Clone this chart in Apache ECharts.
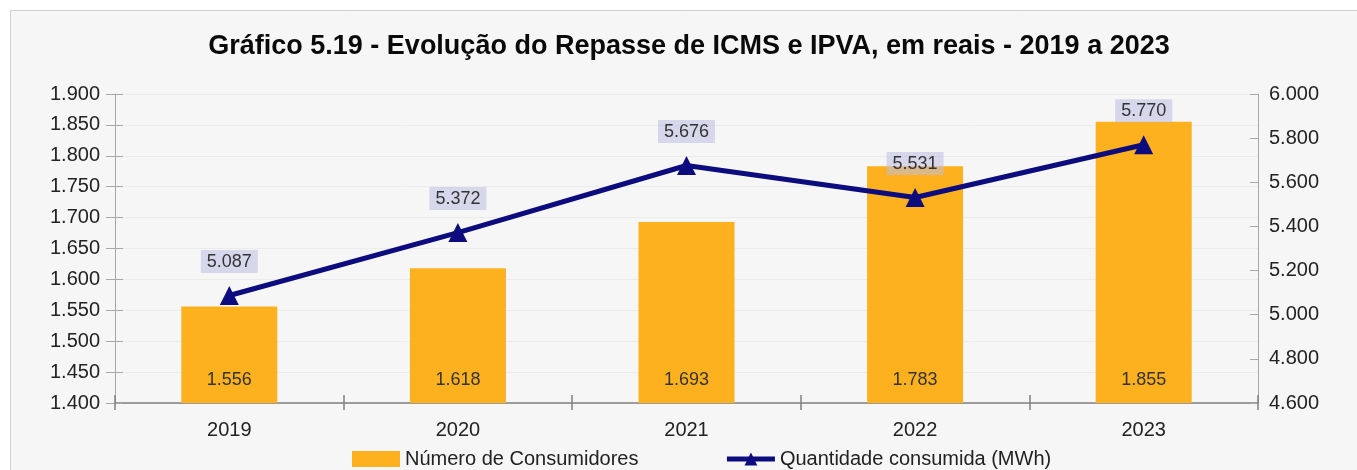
<!DOCTYPE html>
<html>
<head>
<meta charset="utf-8">
<script src="https://cdn.jsdelivr.net/npm/echarts@6/dist/echarts.min.js"></script>
<style>
  html, body { margin: 0; padding: 0; background: #ffffff; }
  #chart { width: 1357px; height: 470px; }
</style>
</head>
<body>
<div id="chart"></div>
<script>
// Data
const years = ['2019', '2020', '2021', '2022', '2023'];
const consumidores = [1556, 1618, 1693, 1783, 1855];
const consumoMWh = [5087, 5372, 5676, 5531, 5770];

// Brazilian thousands separator: 1556 -> "1.556"
function fmt(v) {
  return String(Math.round(v)).replace(/\B(?=(\d{3})+(?!\d))/g, '.');
}

const FONT = '"Liberation Sans", Arial, sans-serif';
const AXIS_GREY = '#a8a8a8';
const LINE_BLUE = '#0c0c7e';
const chart = echarts.init(document.getElementById('chart'), null, { renderer: 'canvas' });

chart.setOption({
  animation: false,
  backgroundColor: '#ffffff',
  textStyle: { fontFamily: FONT },
  graphic: [{
    type: 'rect',
    z: -10,
    shape: { x: 10.5, y: 10.5, width: 1360, height: 470 },
    style: { fill: '#f6f6f6', stroke: '#cfcfcf', lineWidth: 1 }
  }],
  title: {
    text: 'Gráfico 5.19 - Evolução do Repasse de ICMS e IPVA, em reais - 2019 a 2023',
    left: 684,
    textAlign: 'center',
    top: 28,
    textStyle: { fontFamily: FONT, fontSize: 27, fontWeight: 'bold', color: '#0a0a0a' }
  },
  legend: {
    top: 444,
    left: 347,
    itemGap: 86,
    textStyle: { fontFamily: FONT, fontSize: 20, color: '#222222' },
    data: [
      { name: 'Número de Consumidores', icon: 'rect', itemStyle: { color: '#fdb11e' } },
      { name: 'Quantidade consumida (MWh)', lineStyle: { width: 5, color: LINE_BLUE } }
    ],
    itemWidth: 48,
    itemHeight: 16
  },
  grid: { left: 115, right: 99, top: 94, bottom: 67 },
  xAxis: [
    {
      type: 'category',
      data: years,
      boundaryGap: true,
      axisLine: { lineStyle: { color: '#808080', width: 1.5 } },
      axisTick: { show: true, length: 7, alignWithLabel: false, lineStyle: { color: '#808080', width: 1.5 } },
      axisLabel: { fontFamily: FONT, fontSize: 20, color: '#222222', margin: 17 }
    },
    {
      // inner half of the crossing category ticks
      type: 'category',
      data: years,
      position: 'bottom',
      boundaryGap: true,
      axisLine: { show: false },
      axisTick: { show: true, inside: true, length: 8, lineStyle: { color: '#808080', width: 1.5 } },
      axisLabel: { show: false }
    }
  ],
  yAxis: [
    {
      type: 'value',
      min: 1400, max: 1900, interval: 50,
      axisLine: { show: true, lineStyle: { color: AXIS_GREY } },
      axisTick: { show: true, length: 9, lineStyle: { color: AXIS_GREY } },
      splitLine: { show: true, lineStyle: { color: '#ebebeb' } },
      axisLabel: { fontFamily: FONT, fontSize: 20, color: '#222222', margin: 15, formatter: fmt }
    },
    {
      type: 'value',
      min: 4600, max: 6000, interval: 200,
      position: 'right',
      axisLine: { show: true, lineStyle: { color: AXIS_GREY } },
      axisTick: { show: true, length: 8, inside: true, lineStyle: { color: AXIS_GREY } },
      splitLine: { show: false },
      axisLabel: { fontFamily: FONT, fontSize: 20, color: '#222222', margin: 11, formatter: fmt }
    },
    {
      // inner half of the crossing ticks on the left axis
      type: 'value',
      min: 1400, max: 1900, interval: 50,
      position: 'left',
      axisLine: { show: false },
      axisTick: { show: true, inside: true, length: 8, lineStyle: { color: AXIS_GREY } },
      splitLine: { show: false },
      axisLabel: { show: false }
    }
  ],
  series: [
    {
      name: 'Número de Consumidores',
      type: 'bar',
      yAxisIndex: 0,
      data: consumidores,
      barWidth: '42%',
      itemStyle: { color: '#fdb11e' },
      label: {
        show: true,
        position: 'insideBottom',
        distance: 14,
        fontFamily: FONT,
        fontSize: 18,
        color: '#333333',
        formatter: p => fmt(p.value)
      },
      z: 2
    },
    {
      name: 'Quantidade consumida (MWh)',
      type: 'line',
      yAxisIndex: 1,
      data: consumoMWh,
      symbol: 'triangle',
      symbolSize: 19,
      lineStyle: { color: LINE_BLUE, width: 5 },
      itemStyle: { color: LINE_BLUE },
      label: {
        show: true,
        position: 'top',
        distance: 13,
        fontFamily: FONT,
        fontSize: 18,
        color: '#333333',
        backgroundColor: 'rgba(190,190,225,0.55)',
        padding: [3, 6, 2, 6],
        formatter: p => fmt(p.value)
      },
      z: 3
    }
  ]
});
</script>
</body>
</html>
